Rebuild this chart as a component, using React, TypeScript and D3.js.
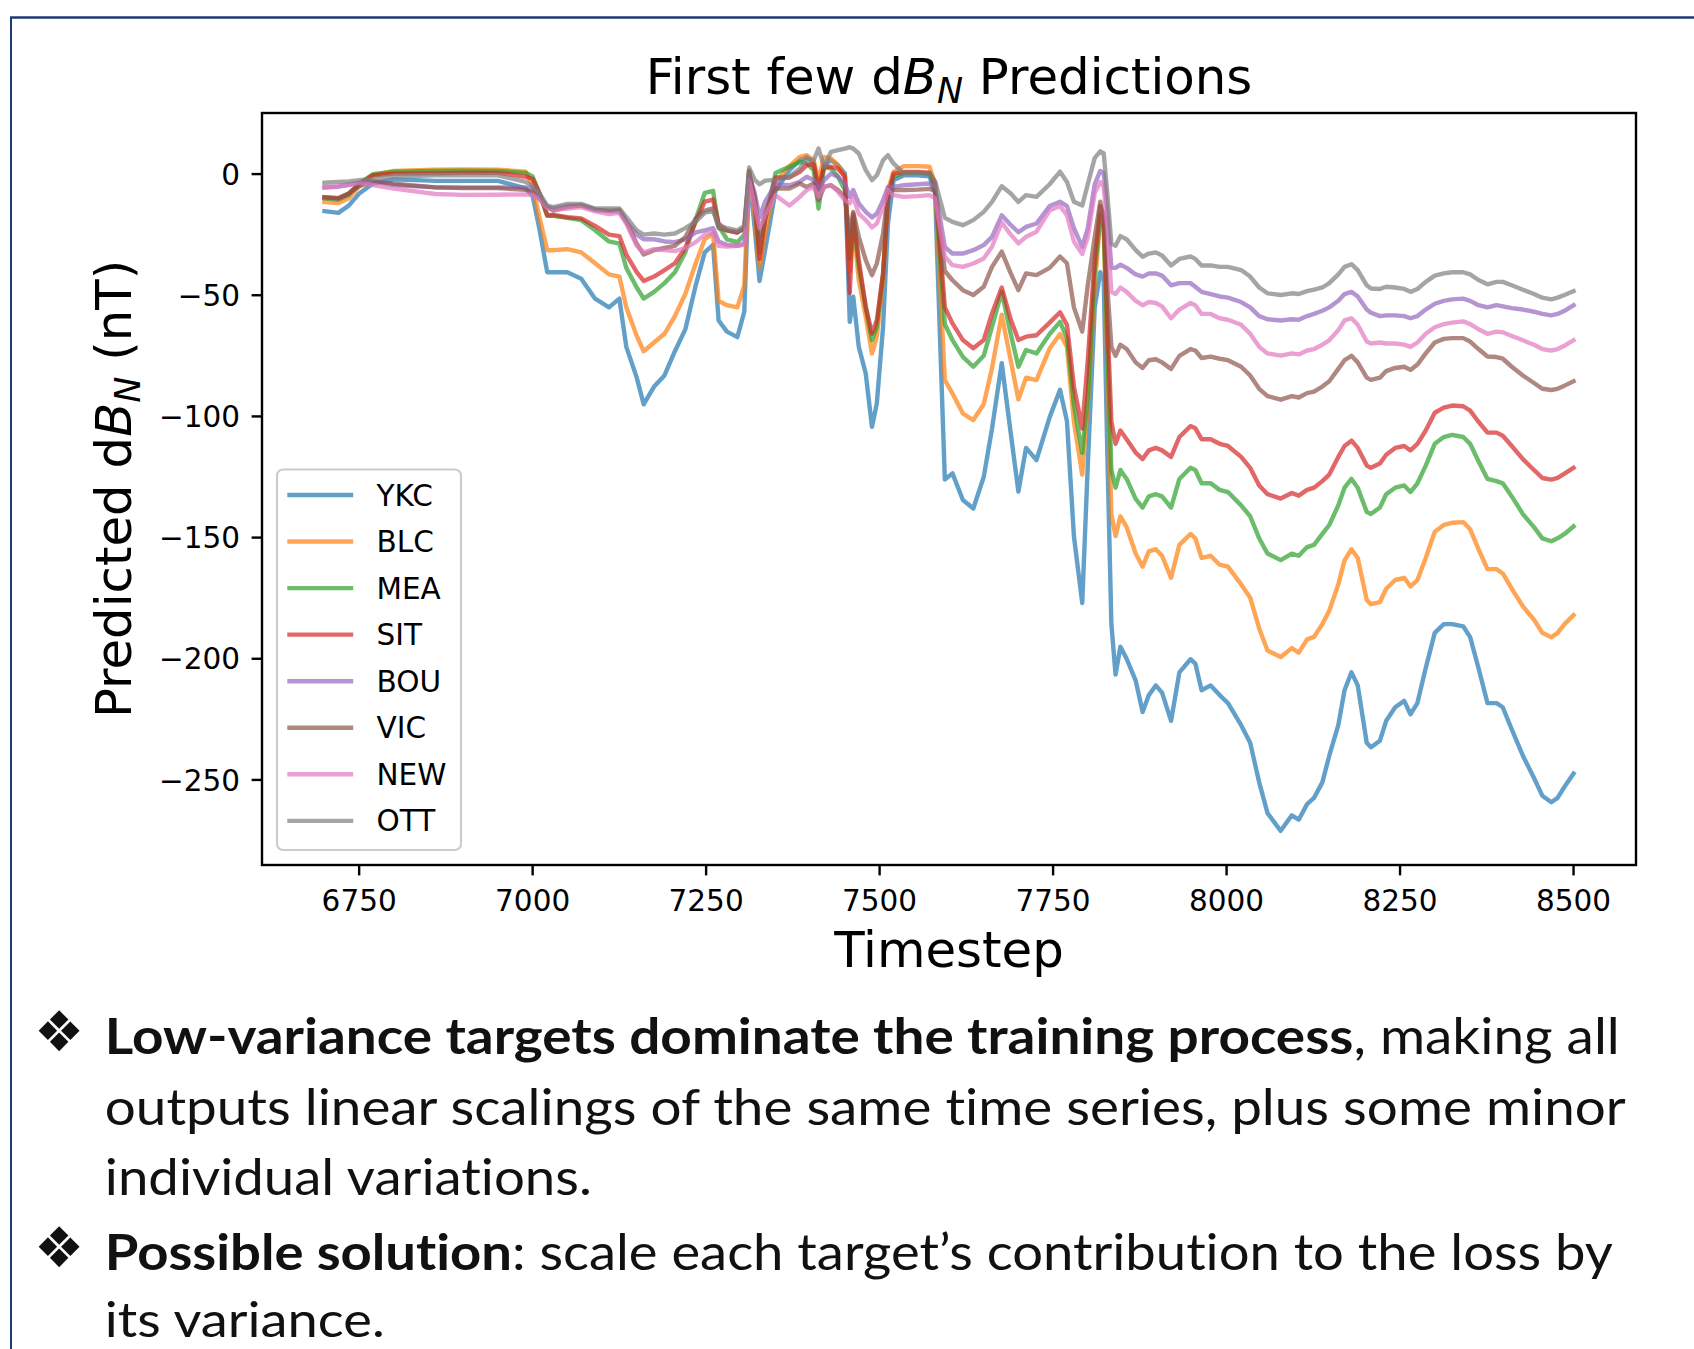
import React from 'react';
import * as d3 from 'd3';

// ---------- data ----------
const timesteps = [
  6700, 6720, 6735, 6750, 6770, 6800, 6860, 6900, 6950, 6990, 7000, 7010, 7021,
  7030, 7050, 7070, 7090, 7110, 7125, 7135, 7150, 7160, 7175, 7190, 7205, 7220, 7235, 7248, 7260, 7268, 7280, 7295, 7305, 7312, 7320, 7327, 7335, 7350,
  7370, 7385, 7395, 7405, 7412, 7420, 7430, 7440, 7450, 7457, 7462, 7470, 7480, 7489, 7496, 7505, 7512, 7520, 7535, 7555, 7572,
  7580, 7594, 7605, 7620, 7635, 7650, 7662, 7676, 7689, 7700, 7711, 7726, 7745, 7760, 7770, 7780, 7792, 7800, 7810, 7818, 7823, 7828, 7834, 7840,
  7847, 7856, 7869, 7879, 7888, 7898, 7907, 7920, 7932, 7948, 7955, 7964, 7977, 7990, 8002, 8021, 8034, 8047, 8059, 8078, 8094, 8104, 8116, 8126, 8138, 8148, 8161, 8170, 8180, 8189, 8202, 8208, 8221, 8230, 8243, 8256, 8265, 8275, 8287, 8300, 8313, 8325, 8341, 8351, 8363, 8376, 8389, 8398, 8411, 8427, 8443, 8455, 8468, 8477, 8487, 8500,
];

const YKC = [
  -15.3, -16, -13, -8, -3.9, -2.2, -2.8, -2.8, -2.8, -5.9, -9, -23, -40.5,
  -40.5, -40.5, -43.2, -51.4, -55, -51.4, -71.3, -84, -95, -87.7, -83.1, -73.1, -64.1, -45.9, -32.3, -29.2, -60.4, -65, -67.3, -56.8, 0.4, -22.3, -44.1, -31.4, -6.9,
  1.6, 5.7, 7.1, 4.4, -6.6, 3.7, 5.7, 3.7, 0.2, -61, -50.6, -71.3, -82.3, -104.3, -94.6, -63, -20.4, -2.5, -0.5, -0.5, -0.9,
  -8, -126, -123.5, -134.5, -138, -125, -105, -78, -107, -131, -113, -118, -100.4, -89, -102, -149.4, -177, -120, -55, -40.5, -44.1, -113, -185.7, -206.5,
  -195, -200, -209, -222, -215, -211, -214, -225.6, -205.6, -200.2, -202, -213, -211, -215, -218.3, -227.4, -234.7, -251, -263.7, -271, -264.6, -266.4, -260, -257.4, -251, -240, -227.4, -213, -205.6, -211, -234.7, -236.5, -233.8, -225.6, -220, -217.4, -222.9, -218.3, -203.8, -189.3, -185.7, -185.7, -186.6, -191.1, -203.8, -218.3, -218.3, -220, -229.2, -240, -249.2, -256.5, -259.2, -257.4, -252.8, -247.4,
];

const BLC = [
  -11.5, -12, -10, -5, -0.5, 1.3, 1.8, 1.9, 1.8, 1, -5, -18, -31.4,
  -31.4, -31, -32.3, -36.8, -41.4, -42.3, -55, -66.8, -73.1, -69.5, -65.9, -58.6, -49.5, -36.8, -26.9, -24.5, -52.3, -54.1, -55, -45.9, 0.9, -16.9, -38.7, -25, -3.3,
  3.3, 7.1, 7.8, 5.7, -2.5, 7.1, 6.4, 3.7, -1.1, -40, -20.4, -43.8, -58.9, -74, -67.1, -43.8, -6.6, 0.9, 3.3, 3.3, 3,
  -4, -85, -90.5, -98.8, -101.5, -95, -80, -58, -77, -93, -84, -85, -72, -66, -71.3, -102.2, -124, -95, -45.9, -18.7, -22.3, -76.8, -140.3, -149.4,
  -141.2, -145.7, -156.6, -162, -155.7, -154.8, -157.5, -166.6, -153, -148.5, -150.3, -158.4, -157.5, -161.2, -162, -169.3, -174.8, -187.5, -196.6, -199.3, -195.6, -197.5, -192, -191, -185.7, -180.2, -169.3, -159.4, -154.8, -158.4, -175.7, -177.5, -176.6, -171.1, -167.5, -166.6, -170.2, -167.5, -158.4, -147.6, -144.8, -143.9, -143.6, -146.6, -154.8, -163, -163, -164.8, -171.1, -178.4, -183.9, -189.3, -191.1, -189.3, -185.7, -182,
];

const MEA = [
  -10, -10.5, -8.5, -4, 0, 1, 1.3, 1.4, 1.3, 0.5, -1, -8, -17.2,
  -17.2, -18.1, -19, -23.2, -27.8, -28.7, -38.7, -46.8, -51.4, -48.6, -45, -40.5, -32.3, -18.7, -7.8, -6.9, -21.4, -26.9, -28.1, -25, 1.5, -12.3, -32.3, -18.7, 0.4,
  3, 5, 4.4, 1.6, -14.2, 3, 2.3, -1.1, -6.6, -35, -17.6, -38.3, -54.8, -68.5, -63, -41, -8, -1.1, 0.5, 0.5, 0.2,
  -6, -62, -68.5, -75.4, -79.5, -75, -63, -48.6, -66, -79.5, -72.6, -74, -66, -61, -67.7, -95, -115, -91.3, -40.5, -16.9, -22.3, -67.7, -122.1, -129.4,
  -122.1, -125.8, -134, -137.6, -133, -132.1, -133, -137.6, -125.8, -121.2, -122.1, -127.6, -127.6, -130.3, -131.2, -136.7, -141.2, -150.3, -156.6, -159.3, -156.6, -157.5, -153.9, -153, -148.5, -144.8, -136.7, -129.4, -125.8, -129.4, -139.4, -140.3, -137.6, -132.1, -129.4, -128.5, -131.2, -127.6, -120.3, -111.3, -108.5, -107.6, -108.5, -111.3, -118.5, -125.8, -126.7, -127.6, -133, -140.3, -145.7, -150.3, -151.5, -150.3, -148.5, -145.4,
];

const SIT = [
  -9.5, -10, -8, -4, -0.5, 0.2, 0.3, 0.5, 0.5, -1.1, -2, -8, -17,
  -16.9, -17.8, -18.3, -21.4, -25, -25.6, -33.2, -40.5, -44.1, -42.3, -39.6, -36.8, -30.5, -19.6, -11.4, -10.5, -20.5, -23.2, -24.1, -22.3, 1, -11.4, -35, -18.7, -1.4,
  -1.4, 0.9, 3.7, 4.1, -6, 3, 3, 2.3, -1.1, -49, -16.3, -35.5, -54.8, -65.8, -60.3, -41, -10.8, 0.2, 0.9, 0.9, 0.6,
  -4, -55, -61.6, -68.5, -71.9, -68.5, -57.5, -46.8, -60, -68.5, -67.1, -66.5, -61.3, -57, -62.2, -87.7, -105, -76.8, -35, -13.2, -16.9, -58.6, -102.2, -111.3,
  -105.8, -109.4, -114.9, -117.6, -114, -113, -114, -116.7, -108.5, -104, -104.9, -109.4, -109.4, -111.3, -112.2, -116.7, -121.2, -128.5, -132.1, -133.9, -131.6, -132.7, -130.3, -129.4, -126.7, -124, -116.7, -112.2, -110, -113, -120.3, -121.2, -119.4, -115.8, -113, -112.2, -114, -111.3, -105.8, -98.5, -96.4, -95.5, -95.8, -97.6, -102.2, -106.7, -106.7, -108, -112.2, -117.6, -122.1, -125.4, -126.1, -125.4, -123.6, -121.2,
];

const BOU = [
  -5.5, -5.2, -4.5, -3.5, -3, -4.5, -5.5, -5.5, -5.5, -5.5, -6, -9, -13.5,
  -14.2, -13, -12.9, -14.7, -15.4, -15.4, -19.6, -25, -26.9, -26.9, -27.8, -28.1, -26.9, -24.1, -23.2, -22.3, -27.8, -29.2, -29.6, -28.7, -0.5, -7.8, -17.8, -11.4, -4.2,
  -4.6, -3.2, -1.1, -2.5, -6.6, -2.5, 0.2, -1.1, -3.9, -9.4, -6.6, -12.1, -15.6, -17.9, -16.3, -10.8, -5.3, -5.3, -4.6, -4.2, -3.9,
  -6, -30, -32.8, -32.8, -31.4, -29.3, -25.9, -17, -21, -24, -21.8, -20.4, -13.2, -11.4, -13.2, -22.3, -30, -22.3, -4.2, 1.3, 0.4, -15, -38.7, -38.7,
  -37.4, -38.7, -41.4, -42.3, -41, -41, -41.9, -45.9, -45, -45, -46.5, -48.6, -49.5, -50.5, -51, -52.8, -55, -58.6, -59.9, -60.4, -59.9, -60.1, -58.6, -57.7, -56.4, -55, -52.3, -49.5, -48.6, -50.5, -55.9, -57.2, -58.6, -58.3, -58.3, -58.6, -59.5, -58.6, -55.9, -53.5, -52.3, -51.7, -51.4, -52.3, -54.1, -55, -54.1, -54.6, -55.3, -55.9, -56.8, -57.7, -58.3, -57.7, -56.4, -54.1,
];

const VIC = [
  -9.6, -10, -8, -5, -3, -4, -5.5, -5.8, -5.8, -6.5, -7.5, -10, -13.5,
  -15.1, -13.6, -12.9, -14.7, -15.1, -14.7, -19.6, -28.7, -33.2, -31.4, -30.5, -29.6, -26, -18.3, -15.1, -14.2, -22.3, -23.2, -24.1, -22.3, -0.5, -9.6, -26, -16, -6,
  -6, -3.9, -5.3, -3.9, -10.8, -5.3, -4.6, -6.6, -9.4, -25, -15.6, -25.9, -35.5, -41.7, -36.9, -24.5, -8, -6.6, -6.6, -6.4, -6.1,
  -7, -40, -43.8, -47.9, -49.9, -46.5, -38.3, -32, -41, -47.9, -41, -41.7, -38.7, -34, -36.8, -55, -65, -45.9, -26, -11.4, -18.7, -45.9, -71.3, -75,
  -70.4, -72.2, -77.7, -80, -76.8, -76.4, -77.7, -80.4, -75, -72.2, -72.8, -75.9, -75.3, -76.2, -76.8, -79.5, -83.1, -88.6, -91.6, -93.1, -91.6, -92.2, -90.4, -89.8, -87.7, -85.5, -80.4, -76.8, -75, -77.7, -84, -84.9, -84, -81.3, -80, -79.5, -80.8, -78.6, -74, -69.5, -68, -67.7, -67.7, -69.1, -72.2, -75.3, -75.5, -76.2, -79.5, -83.1, -86.2, -88.6, -89.1, -88.6, -87.3, -85.5,
];

const NEW = [
  -5.5, -5, -4.2, -3.6, -4.5, -6, -8.2, -8.6, -8.5, -8.4, -8.5, -10.5, -14,
  -14.7, -14.2, -13.6, -15.4, -16.5, -16, -20.5, -29.6, -32.3, -31, -31.4, -31.8, -30.5, -28.1, -25, -24.1, -29.6, -29.9, -29.6, -29.2, -2.4, -13.2, -22.3, -16.9, -8.7,
  -13, -9.4, -6.6, -5.3, -9.4, -5.3, -4.6, -7.3, -10.8, -12.1, -9.4, -16.3, -19, -22, -20.4, -13.5, -6.6, -8.7, -9.4, -9.1, -8.7,
  -10, -34, -37.6, -38.3, -36.9, -34.8, -30, -20, -25, -28.6, -25.9, -23.8, -15, -13.2, -16.9, -27.8, -33, -26, -7.8, -3.3, -5.1, -22.3, -48.6, -49.5,
  -46.8, -48.6, -52.3, -54.1, -52.8, -53.2, -54.6, -59.5, -55.9, -53.2, -54.1, -57.7, -57.7, -59.5, -60.1, -62.2, -65.9, -71.3, -74, -74.9, -74, -74.4, -72.8, -72.2, -70.4, -68.6, -64.4, -60.4, -59.5, -62.2, -69.1, -69.9, -69.5, -69.9, -69.9, -70.4, -71.3, -69.5, -65.9, -63.2, -61.9, -61.3, -60.8, -61.9, -64, -65.9, -65, -65.3, -66.8, -68.6, -70.4, -72.2, -72.8, -72.2, -70.8, -68.6,
];

const OTT = [
  -3.6, -3.2, -3, -2.5, -2, -1, -0.5, -0.5, -0.5, -3.2, -5, -8, -13,
  -13.6, -12.3, -12.3, -14.2, -14.2, -14.2, -17.8, -23.2, -25, -24.5, -25, -24.5, -22.3, -19.6, -16, -15.1, -21.4, -22.3, -23.2, -21.4, 2.7, -2.4, -4.2, -2.7, -2.4,
  -1.1, 2.3, 6.4, 5.7, 10.5, 3, 9.2, 9.9, 10.5, 11.1, 10.5, 8.5, 1.6, -2.5, -0.5, 5.7, 7.8, 4.4, 0.2, 0.5, 0.2,
  -3, -18, -19.7, -21.1, -19, -15.6, -11.5, -5, -8, -11.5, -8.7, -9.4, -4.2, 1, -3.3, -11.4, -13, -4.2, 6.7, 9.4, 8.5, -7.8, -28.7, -29.6,
  -25.6, -26.9, -31.4, -34.1, -32.8, -32.3, -33.6, -37.7, -35, -34, -35, -37.7, -37.7, -38.3, -38.3, -39.6, -42.3, -46.8, -49.2, -49.9, -49.2, -49.5, -48.3, -47.7, -46.8, -45, -41.4, -38.3, -37.2, -39.6, -45.9, -47.2, -47.4, -46.5, -46.8, -47.4, -48.6, -47.4, -44.5, -41.9, -41, -40.5, -40.5, -41.4, -43.7, -45.5, -44.5, -44.5, -45.9, -47.7, -49.5, -51, -51.7, -51, -49.9, -48.3,
];

const stations = ['YKC', 'BLC', 'MEA', 'SIT', 'BOU', 'VIC', 'NEW', 'OTT'];
const stationValues = [YKC, BLC, MEA, SIT, BOU, VIC, NEW, OTT];
const palette = ['#1f77b4', '#ff7f0e', '#2ca02c', '#d62728', '#9467bd', '#8c564b', '#e377c2', '#7f7f7f'];
const xTickValues = [6750, 7000, 7250, 7500, 7750, 8000, 8250, 8500];
const yTickValues = [0, -50, -100, -150, -200, -250];

const titleParts = ['First few d', 'B', 'N', ' Predictions'];
const yLabelParts = ['Predicted d', 'B', 'N', ' (nT)'];
const xLabel = 'Timestep';

const bulletLines = [
  { bullet: true, bold: 'Low-variance targets dominate the training process', rest: ', making all' },
  { bullet: false, bold: '', rest: 'outputs linear scalings of the same time series, plus some minor' },
  { bullet: false, bold: '', rest: 'individual variations.' },
  { bullet: true, bold: 'Possible solution', rest: ': scale each target\u2019s contribution to the loss by' },
  { bullet: false, bold: '', rest: 'its variance.' },
];

// ---------- layout ----------
const W = 1694;
const H = 1349;
const AX = { left: 262, right: 1636, top: 113, bottom: 865 };
const MPL_FONT = 'DejaVu Sans, Verdana, sans-serif';
const TICK_FS = 29.5;
const LABEL_FS = 49.8;
const LW = 4.4;
const SPINE_W = 2.4;
const TICK_LEN = 10.4;

const bulletBaselines = [1054, 1125, 1195, 1270, 1337];
const bulletWidths = [1515, 1521, 487, 1508, 280];

export default function App() {
  const [tMin, tMax] = d3.extent(timesteps) as [number, number];
  const tPad = (tMax - tMin) * 0.05;
  const all = stationValues.flat();
  const [vMin, vMax] = d3.extent(all) as [number, number];
  const vPad = (vMax - vMin) * 0.05;

  const x = d3.scaleLinear().domain([tMin - tPad, tMax + tPad]).range([AX.left, AX.right]);
  const y = d3.scaleLinear().domain([vMin - vPad, vMax + vPad]).range([AX.bottom, AX.top]);

  const line = d3
    .line<number>()
    .x((_, i) => x(timesteps[i]))
    .y((d) => y(d));

  const cx = (AX.left + AX.right) / 2;
  const cy = (AX.top + AX.bottom) / 2;

  const legend = { x: 277, y: 469.5, w: 184, h: 380.5, first: 495, step: 46.55 };

  return (
    <svg
      width={W}
      height={H}
      viewBox={`0 0 ${W} ${H}`}
      style={{ position: 'absolute', left: 0, top: 0, background: '#ffffff' }}
    >
      <rect x={0} y={0} width={W} height={H} fill="#ffffff" />
      {/* slide frame */}
      <line x1={10} x2={W} y1={17.5} y2={17.5} stroke="#1f3a70" strokeWidth={2.6} />
      <line x1={11} x2={11} y1={17} y2={H} stroke="#1f3a70" strokeWidth={2} />

      <defs>
        <clipPath id="axclip">
          <rect x={AX.left} y={AX.top} width={AX.right - AX.left} height={AX.bottom - AX.top} />
        </clipPath>
      </defs>

      {/* title */}
      <text x={cx} y={94} fontFamily={MPL_FONT} fontSize={LABEL_FS} textAnchor="middle" fill="#000">
        <tspan>{titleParts[0]}</tspan>
        <tspan fontStyle="italic">{titleParts[1]}</tspan>
        <tspan fontStyle="italic" fontSize={LABEL_FS * 0.7} dy={9}>{titleParts[2]}</tspan>
        <tspan dy={-9}>{titleParts[3]}</tspan>
      </text>

      {/* series */}
      <g clipPath="url(#axclip)">
        {stationValues.map((vals, i) => (
          <path
            key={stations[i]}
            d={line(vals) || ''}
            fill="none"
            stroke={palette[i]}
            strokeOpacity={0.7}
            strokeWidth={LW}
            strokeLinejoin="round"
            strokeLinecap="square"
          />
        ))}
      </g>

      {/* spines */}
      <rect
        x={AX.left}
        y={AX.top}
        width={AX.right - AX.left}
        height={AX.bottom - AX.top}
        fill="none"
        stroke="#000"
        strokeWidth={SPINE_W}
      />

      {/* x ticks */}
      {xTickValues.map((t) => (
        <g key={`xt${t}`}>
          <line x1={x(t)} x2={x(t)} y1={AX.bottom} y2={AX.bottom + TICK_LEN} stroke="#000" strokeWidth={SPINE_W} />
          <text x={x(t)} y={911} fontFamily={MPL_FONT} fontSize={TICK_FS} textAnchor="middle" fill="#000">
            {String(t)}
          </text>
        </g>
      ))}

      {/* y ticks */}
      {yTickValues.map((v) => (
        <g key={`yt${v}`}>
          <line x1={AX.left - TICK_LEN} x2={AX.left} y1={y(v)} y2={y(v)} stroke="#000" strokeWidth={SPINE_W} />
          <text x={240} y={y(v) + 10.7} fontFamily={MPL_FONT} fontSize={TICK_FS} textAnchor="end" fill="#000">
            {v < 0 ? `\u2212${Math.abs(v)}` : String(v)}
          </text>
        </g>
      ))}

      {/* x label */}
      <text x={cx} y={967} fontFamily={MPL_FONT} fontSize={LABEL_FS} textAnchor="middle" fill="#000">
        {xLabel}
      </text>

      {/* y label */}
      <text
        transform={`translate(131, ${cy}) rotate(-90)`}
        fontFamily={MPL_FONT}
        fontSize={LABEL_FS}
        textAnchor="middle"
        fill="#000"
      >
        <tspan>{yLabelParts[0]}</tspan>
        <tspan fontStyle="italic">{yLabelParts[1]}</tspan>
        <tspan fontStyle="italic" fontSize={LABEL_FS * 0.7} dy={9}>{yLabelParts[2]}</tspan>
        <tspan dy={-9}>{yLabelParts[3]}</tspan>
      </text>

      {/* legend */}
      <rect
        x={legend.x}
        y={legend.y}
        width={legend.w}
        height={legend.h}
        rx={6}
        ry={6}
        fill="#ffffff"
        fillOpacity={0.8}
        stroke="#cccccc"
        strokeWidth={2.2}
      />
      {stations.map((s, i) => {
        const ly = legend.first + i * legend.step;
        return (
          <g key={`lg${s}`}>
            <line
              x1={289.5}
              x2={351}
              y1={ly}
              y2={ly}
              stroke={palette[i]}
              strokeOpacity={0.7}
              strokeWidth={LW}
              strokeLinecap="square"
            />
            <text x={376.5} y={ly + 10.6} fontFamily={MPL_FONT} fontSize={TICK_FS} fill="#000">
              {s}
            </text>
          </g>
        );
      })}

      {/* slide text */}
      {bulletLines.map((ln, i) => (
        <g key={`bl${i}`}>
          {ln.bullet && (
            <text x={34} y={bulletBaselines[i] - 3} fontFamily="DejaVu Sans" fontSize={56} fill="#111">
              {'\u2756'}
            </text>
          )}
          <text
            x={104.8}
            y={bulletBaselines[i]}
            fontFamily="Lato, 'Open Sans', sans-serif"
            fontSize={i === bulletLines.length - 1 ? 48 : 50}
            fill="#111"
            textLength={bulletWidths[i]}
            lengthAdjust="spacingAndGlyphs"
            style={{ fontVariantLigatures: 'none' }}
          >
            {ln.bold && <tspan fontWeight="bold">{ln.bold}</tspan>}
            <tspan>{ln.rest}</tspan>
          </text>
        </g>
      ))}
    </svg>
  );
}
